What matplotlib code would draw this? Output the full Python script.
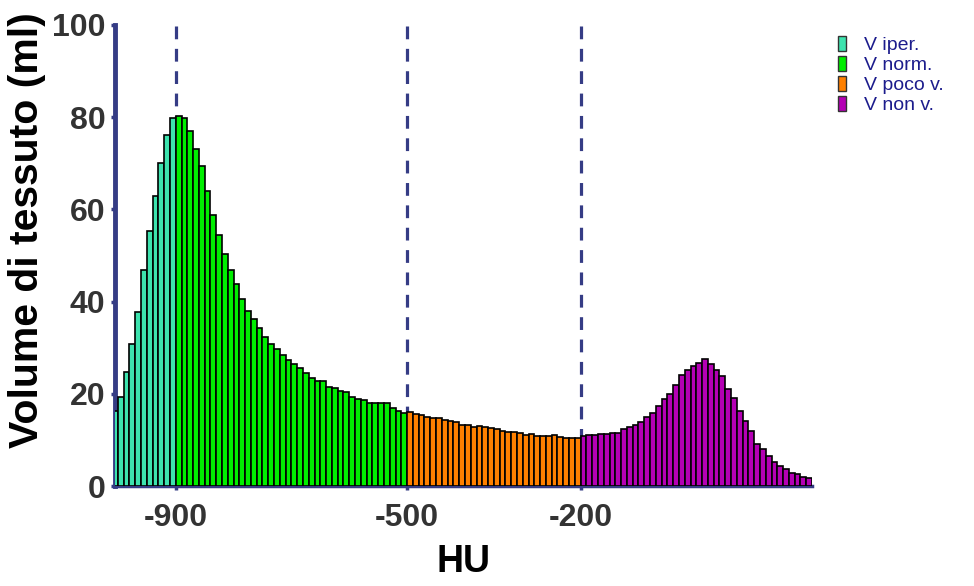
import numpy as np
import matplotlib
matplotlib.use("Agg")
import matplotlib.pyplot as plt
from matplotlib.patches import Patch

plt.rcParams['font.family'] = ['Liberation Sans', 'DejaVu Sans']

# dati: volume (ml) per classe di 10 HU, bordo sinistro del bin
bin_w = 10
iper_start = -1010
iper = [16.3, 19.2, 24.8, 30.9, 37.8, 46.9, 55.3, 62.9, 70.1, 76.1, 79.8]
norm_start = -900
norm = [80.3, 79.9, 76.9, 73.2, 69.4, 63.9, 58.8, 54.5, 50.4, 46.9,
        43.9, 40.6, 38.0, 36.2, 34.3, 32.3, 30.7, 29.8, 28.5, 27.3,
        26.5, 25.7, 24.6, 23.5, 22.8, 22.8, 21.5, 21.3, 20.5, 20.3,
        19.2, 18.9, 18.7, 18.1, 18.1, 17.9, 17.9, 16.9, 16.2, 15.8]
poco_start = -500
poco = [16.0, 15.7, 15.5, 15.0, 14.75, 14.75, 14.4, 14.2, 13.9, 13.2,
        13.3, 12.9, 13.1, 12.8, 12.65, 12.4, 12.0, 11.8, 11.8, 11.6,
        11.1, 11.3, 10.9, 10.95, 10.85, 11.1, 10.7, 10.5, 10.5, 10.5]
non_start = -200
non = [10.8, 11.0, 11.0, 11.2, 11.2, 11.6, 11.6, 12.3, 12.9, 13.2,
       13.9, 14.9, 15.8, 17.3, 18.8, 20.0, 21.9, 24.1, 25.1, 26.0,
       26.7, 27.6, 26.5, 25.2, 23.9, 21.1, 19.1, 16.3, 14.1, 11.9,
       9.1, 8.0, 6.4, 5.2, 4.3, 3.6, 2.8, 2.5, 1.95, 1.7]

soglie = [-900, -500, -200]
etichette = ["V iper.", "V norm.", "V poco v.", "V non v."]
colori = ["#3DE3AE", "#00EE00", "#FF8000", "#B400B4"]

navy = "#353c85"

fig = plt.figure(figsize=(9.74, 5.86), dpi=100)
ax = fig.add_axes([115/974, 1-486/586, (812-115)/974, (486-25)/586])

gruppi = [(iper_start, iper), (norm_start, norm), (poco_start, poco), (non_start, non)]
for (start, vals), col in zip(gruppi, colori):
    x = start + bin_w * np.arange(len(vals))
    ax.bar(x, vals, width=bin_w, align="edge", color=col,
           edgecolor="black", linewidth=1.2, zorder=3)

for s in soglie:
    ax.axvline(s, color=navy, lw=2.3, linestyle=(0, (4, 3)), zorder=1)

ax.set_xlim(-1005, 200)
ax.set_ylim(0, 100)
ax.set_xticks(soglie)
ax.set_xticklabels([str(s) for s in soglie])
ax.set_yticks([0, 20, 40, 60, 80, 100])

ax.tick_params(axis="both", colors=navy, width=2.5, length=3, pad=4)
ax.tick_params(axis="x", pad=9)
for lab in ax.get_xticklabels() + ax.get_yticklabels():
    lab.set_fontsize(23)
    lab.set_fontweight("bold")
    lab.set_color("#333333")

for side in ["top", "right"]:
    ax.spines[side].set_visible(False)
ax.spines["left"].set_color(navy)
ax.spines["left"].set_linewidth(3.5)
ax.spines["bottom"].set_color(navy)
ax.spines["bottom"].set_linewidth(2.5)

ax.set_xlabel("HU", fontsize=27, fontweight="bold", labelpad=8)
ax.set_ylabel("Volume di tessuto (ml)", fontsize=29.5, fontweight="bold")
ax.yaxis.set_label_coords(-0.099, 0.555)

handles = [Patch(facecolor=c, edgecolor="#333333", linewidth=1) for c in colori]
fig.legend(handles, etichette, loc="upper left", bbox_to_anchor=(828/974, 1-26/586),
           frameon=False, fontsize=14, labelcolor="#1c1c8c",
           handlelength=0.45, handleheight=0.8, handletextpad=0.9,
           labelspacing=0.1, borderpad=0)

fig.savefig("out.png", dpi=100)
